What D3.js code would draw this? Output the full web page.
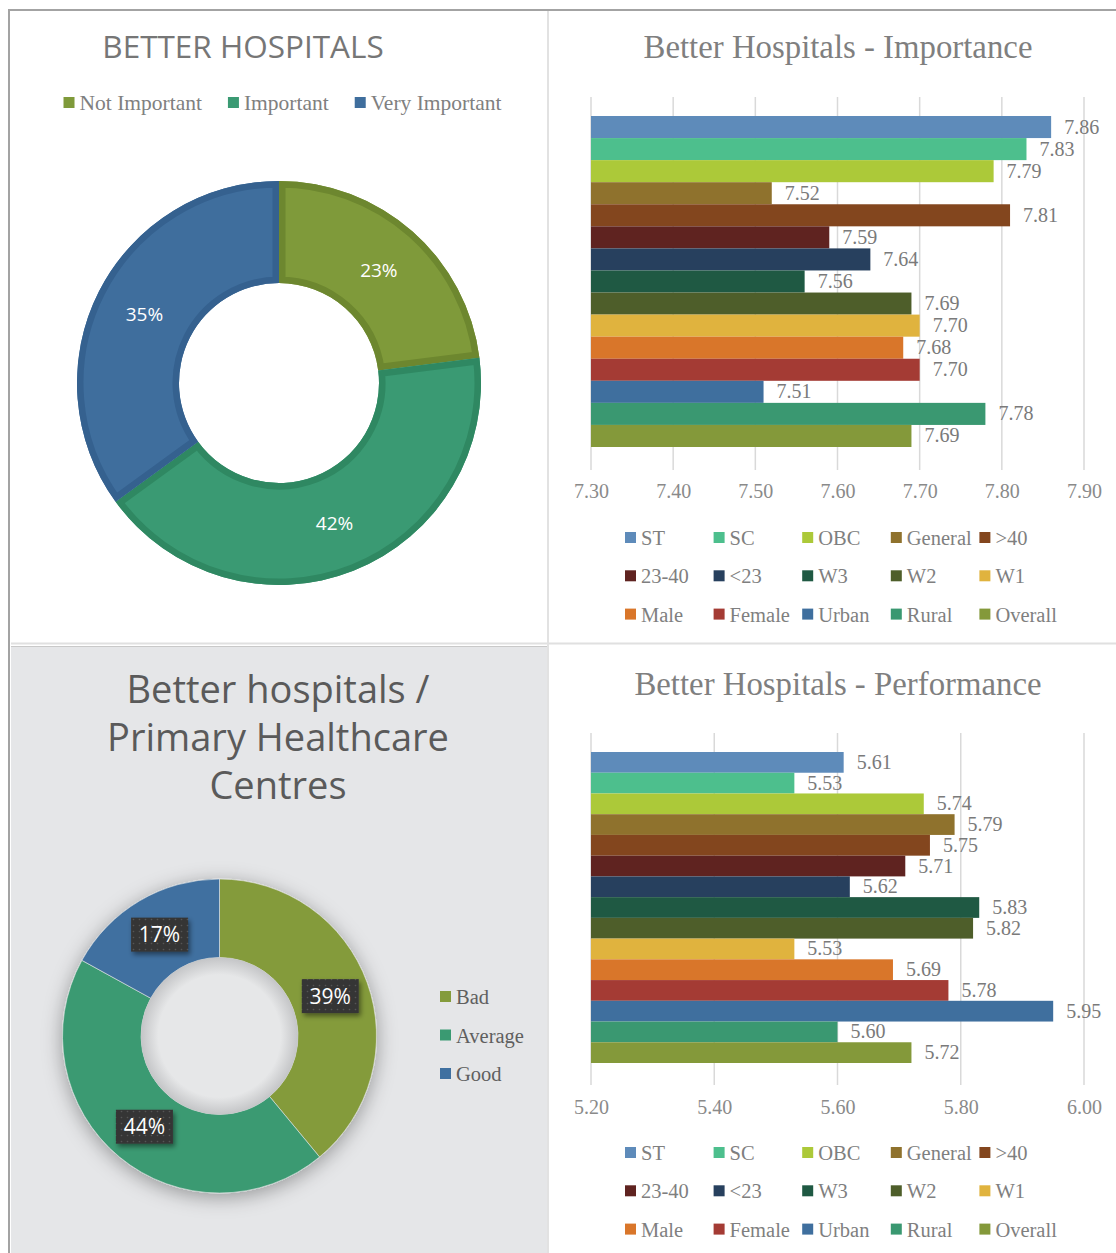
<!DOCTYPE html>
<html>
<head>
<meta charset="utf-8">
<script src="https://cdn.jsdelivr.net/npm/d3@7"></script>
<style>
  html, body { margin: 0; padding: 0; background: #ffffff; }
  svg { display: block; }
</style>
</head>
<body>
<svg id="chart" width="1116" height="1253"></svg>
<script>
// ---------------- DATA ----------------
const importanceLevels = ["Not Important", "Important", "Very Important"];
const importanceShares = [23, 42, 35];

const phcLevels = ["Bad", "Average", "Good"];
const phcShares = [39, 44, 17];

const groups = ["ST", "SC", "OBC", "General", ">40", "23-40", "<23", "W3", "W2", "W1", "Male", "Female", "Urban", "Rural", "Overall"];
const importanceScores = [7.86, 7.83, 7.79, 7.52, 7.81, 7.59, 7.64, 7.56, 7.69, 7.70, 7.68, 7.70, 7.51, 7.78, 7.69];
const performanceScores = [5.61, 5.53, 5.74, 5.79, 5.75, 5.71, 5.62, 5.83, 5.82, 5.53, 5.69, 5.78, 5.95, 5.60, 5.72];

const importanceTicks = [7.30, 7.40, 7.50, 7.60, 7.70, 7.80, 7.90];
const performanceTicks = [5.20, 5.40, 5.60, 5.80, 6.00];

// ---------------- STYLE ----------------
const groupColors = ["#5e8bba", "#4dbf8d", "#acc939", "#8f722d", "#83461e", "#5f2320", "#27405e", "#1f5943", "#4e5e2a", "#e0b33e", "#d9762a", "#a43b34", "#3f6f9e", "#3a9871", "#84993a"];
const donutColors = ["#7f9a3a", "#3a9a73", "#3f6e9d"];
const donutEdge = ["#6d872f", "#2f8862", "#35618f"];
const phcColors = ["#849b3b", "#3a9a72", "#3f70a0"];

const SERIF = "'Liberation Serif', 'Times New Roman', serif";
const SANS = "'Open Sans', 'Noto Sans', sans-serif";

const svg = d3.select("#chart");
const defs = svg.append("defs");

// ---------------- FRAME ----------------
svg.append("rect").attr("x", 11).attr("y", 647).attr("width", 536).attr("height", 606).attr("fill", "#e5e6e8");
svg.append("line").attr("x1", 11).attr("x2", 1116).attr("y1", 643.5).attr("y2", 643.5).attr("stroke", "#e0e0e0").attr("stroke-width", 2);
svg.append("line").attr("x1", 11).attr("x2", 547).attr("y1", 646.5).attr("y2", 646.5).attr("stroke", "#c9c9c9").attr("stroke-width", 1);
svg.append("line").attr("x1", 548).attr("x2", 548).attr("y1", 11).attr("y2", 1253).attr("stroke", "#e2e2e2").attr("stroke-width", 2);
svg.append("line").attr("x1", 8).attr("x2", 1116).attr("y1", 10).attr("y2", 10).attr("stroke", "#a3a3a3").attr("stroke-width", 2);
svg.append("line").attr("x1", 9).attr("x2", 9).attr("y1", 9).attr("y2", 1253).attr("stroke", "#a3a3a3").attr("stroke-width", 2);

// ---------------- TOP-LEFT DONUT ----------------
(function () {
  const g = svg.append("g");
  g.append("text").attr("x", 243).attr("y", 58).attr("text-anchor", "middle")
    .attr("font-family", SANS).attr("font-size", 31.5).attr("fill", "#767676")
    .text("BETTER HOSPITALS");

  // legend
  const leg = g.append("g").attr("transform", "translate(0,103)");
  const items = [];
  importanceLevels.forEach((name, i) => {
    const it = leg.append("g");
    it.append("rect").attr("x", 0).attr("y", -6).attr("width", 11).attr("height", 11).attr("fill", donutColors[i]);
    const t = it.append("text").attr("x", 16).attr("y", 7).attr("font-family", SERIF).attr("font-size", 21.5).attr("fill", "#808080").text(name);
    items.push({ it, w: 16 + t.node().getComputedTextLength() });
  });
  const gap = 26;
  const total = d3.sum(items, d => d.w) + gap * (items.length - 1);
  let x = 282.5 - total / 2;
  items.forEach(d => { d.it.attr("transform", `translate(${x},0)`); x += d.w + gap; });

  const cx = 279, cy = 383, rO = 202, rI = 100;
  const pie = d3.pie().sort(null).value(d => d);
  const arc = d3.arc().innerRadius(rI).outerRadius(rO);
  const arcs = pie(importanceShares);
  const dg = g.append("g").attr("transform", `translate(${cx},${cy})`);
  arcs.forEach((a, i) => {
    const id = "clipTL" + i;
    defs.append("clipPath").attr("id", id).append("path").attr("d", arc(a));
    dg.append("path").attr("d", arc(a)).attr("fill", donutColors[i]);
    dg.append("path").attr("d", arc(a)).attr("fill", "none").attr("stroke", donutEdge[i]).attr("stroke-width", 13)
      .attr("stroke-linejoin", "round").attr("clip-path", `url(#${id})`);
  });
  arcs.forEach((a, i) => {
    const c = arc.centroid(a);
    g.append("text").attr("x", cx + c[0]).attr("y", cy + c[1] + 7).attr("text-anchor", "middle")
      .attr("font-family", SANS).attr("font-size", 19).attr("fill", "#ffffff")
      .text(importanceShares[i] + "%");
  });
})();

// ---------------- BAR CHARTS ----------------
function barChart(opts) {
  const g = svg.append("g");
  g.append("text").attr("x", 838).attr("y", opts.titleY).attr("text-anchor", "middle")
    .attr("font-family", SERIF).attr("font-size", 32.8).attr("fill", "#7f7f7f").text(opts.title);

  const x = d3.scaleLinear().domain(opts.domain).range([591, 1084]);
  const y = d3.scaleBand().domain(groups).range(opts.barRange).padding(0);

  // gridlines
  g.append("g").selectAll("line").data(opts.ticks).join("line")
    .attr("x1", d => x(d)).attr("x2", d => x(d))
    .attr("y1", opts.gridRange[0]).attr("y2", opts.gridRange[1])
    .attr("stroke", "#d9d9d9").attr("stroke-width", 1.5);

  // bars
  g.append("g").selectAll("rect").data(groups).join("rect")
    .attr("x", x(opts.domain[0]))
    .attr("y", d => y(d))
    .attr("width", (d, i) => x(opts.values[i]) - x(opts.domain[0]))
    .attr("height", y.bandwidth())
    .attr("fill", (d, i) => groupColors[i]);

  // value labels
  g.append("g").selectAll("text").data(groups).join("text")
    .attr("x", (d, i) => x(opts.values[i]) + 13)
    .attr("y", d => y(d) + y.bandwidth() / 2 + 6.5)
    .attr("font-family", SERIF).attr("font-size", 20).attr("fill", "#7a7a7a")
    .text((d, i) => opts.values[i].toFixed(2));

  // axis
  const axis = d3.axisBottom(x).tickValues(opts.ticks).tickFormat(d3.format(".2f")).tickSize(0).tickPadding(0);
  const ag = g.append("g").attr("transform", `translate(0,${opts.axisY})`).call(axis);
  ag.select(".domain").remove();
  ag.selectAll("text").attr("font-family", SERIF).attr("font-size", 20).attr("fill", "#8a8a8a").attr("dy", "0.35em");

  // legend
  const lg = g.append("g");
  groups.forEach((name, i) => {
    const col = i % 5, row = Math.floor(i / 5);
    const lx = 625 + col * 88.6, ly = opts.legendY + row * 38.3;
    lg.append("rect").attr("x", lx).attr("y", ly - 6).attr("width", 11).attr("height", 11).attr("fill", groupColors[i]);
    lg.append("text").attr("x", lx + 16).attr("y", ly + 7).attr("font-family", SERIF).attr("font-size", 20.5)
      .attr("fill", "#7f7f7f").text(name);
  });
}

barChart({
  title: "Better Hospitals - Importance", titleY: 58,
  values: importanceScores, domain: [7.30, 7.90], ticks: importanceTicks,
  barRange: [116, 447], gridRange: [97, 470], axisY: 491, legendY: 538
});
barChart({
  title: "Better Hospitals - Performance", titleY: 695,
  values: performanceScores, domain: [5.20, 6.00], ticks: performanceTicks,
  barRange: [752, 1063], gridRange: [733, 1085], axisY: 1107, legendY: 1153
});

// ---------------- BOTTOM-LEFT DONUT ----------------
(function () {
  const g = svg.append("g");
  const lines = ["Better hospitals /", "Primary Healthcare", "Centres"];
  lines.forEach((t, i) => {
    g.append("text").attr("x", 278).attr("y", 703 + i * 48).attr("text-anchor", "middle")
      .attr("font-family", SANS).attr("font-size", 38).attr("fill", "#5a5a5a").text(t);
  });

  const f = defs.append("filter").attr("id", "dshadow").attr("x", "-30%").attr("y", "-30%").attr("width", "160%").attr("height", "160%");
  f.append("feDropShadow").attr("dx", 0).attr("dy", 4).attr("stdDeviation", 10).attr("flood-color", "#000").attr("flood-opacity", 0.35);
  const f2 = defs.append("filter").attr("id", "lshadow").attr("x", "-30%").attr("y", "-30%").attr("width", "160%").attr("height", "160%");
  f2.append("feDropShadow").attr("dx", 2).attr("dy", 3).attr("stdDeviation", 2.5).attr("flood-color", "#000").attr("flood-opacity", 0.45);
  const pat = defs.append("pattern").attr("id", "dots").attr("width", 6).attr("height", 6).attr("patternUnits", "userSpaceOnUse");
  pat.append("rect").attr("width", 6).attr("height", 6).attr("fill", "#363636");
  pat.append("circle").attr("cx", 1.5).attr("cy", 1.5).attr("r", 0.8).attr("fill", "#555");

  const cx = 219.5, cy = 1036, rO = 157, rI = 78.5;
  const pie = d3.pie().sort(null).value(d => d);
  const arc = d3.arc().innerRadius(rI).outerRadius(rO);
  const arcs = pie(phcShares);
  const dg = g.append("g").attr("transform", `translate(${cx},${cy})`).attr("filter", "url(#dshadow)");
  dg.selectAll("path").data(arcs).join("path").attr("d", arc)
    .attr("fill", (d, i) => phcColors[i]).attr("stroke", "#e6e7e8").attr("stroke-width", 0.6);
  // inner hole shading
  const hg = defs.append("radialGradient").attr("id", "hole");
  hg.append("stop").attr("offset", "0.78").attr("stop-color", "#e6e7e8");
  hg.append("stop").attr("offset", "1").attr("stop-color", "#c4c5c7");
  g.append("circle").attr("cx", cx).attr("cy", cy).attr("r", rI).attr("fill", "url(#hole)");

  arcs.forEach((a, i) => {
    const c = arc.centroid(a);
    const bx = cx + c[0], by = cy + c[1];
    g.append("rect").attr("x", bx - 28.5).attr("y", by - 17).attr("width", 57).attr("height", 34)
      .attr("fill", "url(#dots)").attr("filter", "url(#lshadow)");
    g.append("text").attr("x", bx).attr("y", by + 7.5).attr("text-anchor", "middle")
      .attr("font-family", SANS).attr("font-size", 21).attr("fill", "#ffffff").text(phcShares[i] + "%");
  });

  // legend
  phcLevels.forEach((name, i) => {
    const ly = 997 + i * 38.5;
    g.append("rect").attr("x", 440).attr("y", ly - 6).attr("width", 11).attr("height", 11).attr("fill", phcColors[i]);
    g.append("text").attr("x", 456).attr("y", ly + 7).attr("font-family", SERIF).attr("font-size", 20.5)
      .attr("fill", "#5f5f5f").text(name);
  });
})();
</script>
</body>
</html>
